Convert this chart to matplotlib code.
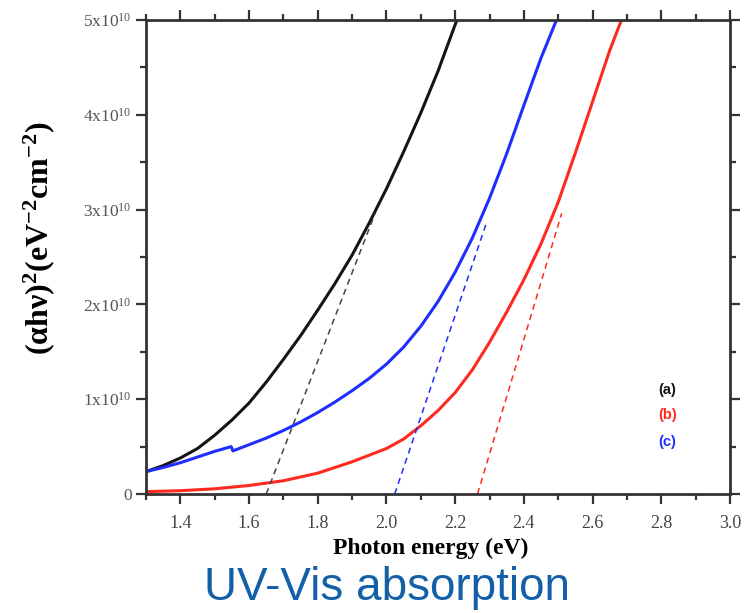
import matplotlib
matplotlib.use('Agg')
import matplotlib.pyplot as plt
from matplotlib.ticker import MultipleLocator, FuncFormatter

plt.rcParams['font.family'] = ['Liberation Serif', 'DejaVu Serif']
plt.rcParams['mathtext.fontset'] = 'custom'
plt.rcParams['mathtext.rm'] = 'Liberation Serif'
plt.rcParams['mathtext.bf'] = 'Liberation Serif:bold'
plt.rcParams['mathtext.it'] = 'Liberation Serif:italic'

# (a) black curve
E_a = [1.30, 1.35, 1.40, 1.45, 1.50, 1.55, 1.60, 1.65, 1.70, 1.75, 1.80,
       1.85, 1.90, 1.95, 2.00, 2.05, 2.10, 2.15, 2.205]
Y_a = [0.236, 0.30, 0.38, 0.48, 0.62, 0.78, 0.96, 1.18, 1.42, 1.67, 1.94,
       2.22, 2.52, 2.86, 3.22, 3.61, 4.02, 4.46, 5.00]
# (b) red curve
E_b = [1.30, 1.40, 1.50, 1.60, 1.70, 1.80, 1.90, 2.00, 2.05, 2.10, 2.15,
       2.20, 2.25, 2.30, 2.35, 2.40, 2.45, 2.50, 2.55, 2.60, 2.65, 2.684]
Y_b = [0.025, 0.035, 0.055, 0.09, 0.14, 0.22, 0.34, 0.48, 0.58, 0.72, 0.88,
       1.07, 1.31, 1.60, 1.92, 2.26, 2.64, 3.08, 3.60, 4.14, 4.68, 5.00]
# (c) blue curve (with the small step near 1.55 eV)
E_c = [1.30, 1.35, 1.40, 1.45, 1.50, 1.548, 1.553, 1.60, 1.65, 1.70, 1.75,
       1.80, 1.85, 1.90, 1.95, 2.00, 2.05, 2.10, 2.15, 2.20, 2.25, 2.30,
       2.35, 2.40, 2.45, 2.495]
Y_c = [0.236, 0.28, 0.33, 0.39, 0.45, 0.50, 0.455, 0.52, 0.59, 0.67, 0.76,
       0.86, 0.97, 1.09, 1.22, 1.37, 1.55, 1.77, 2.03, 2.34, 2.70, 3.12,
       3.59, 4.10, 4.60, 5.00]

# linear extrapolations to the band gap
fit_a_E = [1.650, 1.967]
fit_a_Y = [0.0, 2.96]
fit_b_E = [2.265, 2.510]
fit_b_Y = [0.0, 2.96]
fit_c_E = [2.024, 2.291]
fit_c_Y = [0.0, 2.86]

labels = ['(a)', '(b)', '(c)']
label_y = [1.10, 0.83, 0.55]

black = '#151515'
red = '#ff2a1f'
blue = '#1f2dff'

fig = plt.figure(figsize=(7.44, 6.13), dpi=100)
ax = fig.add_axes([0.1962, 0.1941, 0.7850, 0.7733])

ax.plot(E_a, Y_a, color=black, lw=2.2)
ax.plot(E_b, Y_b, color=red, lw=2.2)
ax.plot(E_c, Y_c, color=blue, lw=2.2)

ax.plot(fit_a_E, fit_a_Y, color='#444444', lw=1.1, ls=(0, (4, 3)))
ax.plot(fit_b_E, fit_b_Y, color=red, lw=1.1, ls=(0, (4, 3)))
ax.plot(fit_c_E, fit_c_Y, color=blue, lw=1.1, ls=(0, (4, 3)))

for lab, yy, cc in zip(labels, label_y, [black, red, blue]):
    ax.text(2.817, yy, lab, color=cc, fontsize=10.5, fontweight='bold',
            family='Liberation Sans', ha='center', va='center')

ax.set_xlim(1.3, 3.0)
ax.set_ylim(0, 5)
ax.xaxis.set_major_locator(MultipleLocator(0.2))
ax.xaxis.set_minor_locator(MultipleLocator(0.1))
ax.yaxis.set_major_locator(MultipleLocator(1))
ax.yaxis.set_minor_locator(MultipleLocator(0.5))


def yfmt(v, pos):
    if v == 0:
        return '0'
    return r'%dx10$^{\mathregular{10}}$' % round(v)


ax.yaxis.set_major_formatter(FuncFormatter(yfmt))
ax.xaxis.set_major_formatter(FuncFormatter(lambda v, p: '%.1f' % v))

for s in ax.spines.values():
    s.set_linewidth(2.0)
    s.set_color('#333333')
ax.tick_params(which='both', direction='out', top=True, right=True,
               color='#333333', width=1.6)
ax.tick_params(which='major', length=7)
ax.tick_params(which='minor', length=4)
ax.tick_params(axis='x', labelsize=13, pad=8, labelcolor='#444444')
ax.tick_params(axis='y', labelsize=12.5, pad=3, labelcolor='#555555')

ax.set_xlabel('Photon energy (eV)', fontsize=17, fontweight='bold')
ax.xaxis.set_label_coords(0.488, -0.093)
ax.set_ylabel(r'($\mathbf{\alpha}$h$\mathbf{\nu}$)$^{\mathbf{2}}$(eV$^{\mathbf{-2}}$cm$^{\mathbf{-2}}$)',
              fontsize=23, fontweight='bold')
ax.yaxis.set_label_coords(-0.152, 0.54)

fig.text(0.52, 0.021, 'UV-Vis absorption', color='#1460a8', fontsize=33,
         family='Liberation Sans', ha='center', va='baseline')

plt.savefig('out.png', dpi=100)
